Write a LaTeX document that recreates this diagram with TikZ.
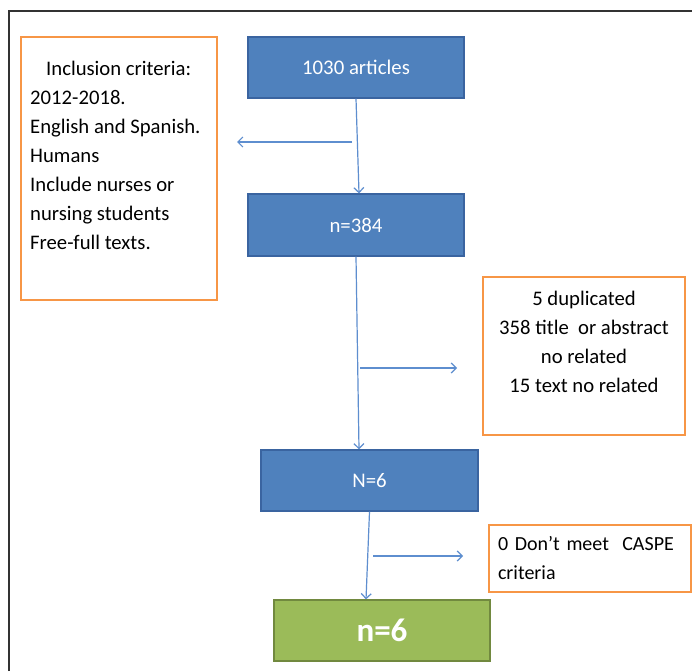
\documentclass[tikz,border=0pt]{standalone}
\usepackage{fontspec}
\setmainfont{Carlito}
\usetikzlibrary{arrows.meta}
\definecolor{boxblue}{HTML}{4F81BD}
\definecolor{boxblueline}{HTML}{3A64A0}
\definecolor{boxgreen}{HTML}{9BBB59}
\definecolor{boxgreenline}{HTML}{71893F}
\definecolor{boxorange}{HTML}{F79646}
\definecolor{arrowblue}{HTML}{5E8ECF}
\definecolor{framegray}{HTML}{333333}
\tikzset{
  x=1pt, y=-1pt,
  bluebox/.style={draw=boxblueline, line width=1.2pt, fill=boxblue, text=white,
    inner sep=0pt, font=\fontsize{20.8}{24}\selectfont},
  greenbox/.style={draw=boxgreenline, line width=1.2pt, fill=boxgreen, text=white,
    inner sep=0pt, font=\fontsize{33}{38}\selectfont\bfseries},
  orangebox/.style={draw=boxorange, line width=1.6pt, inner sep=0pt},
  bodytext/.style={inner sep=0pt, font=\fontsize{20.7}{29}\selectfont, text=black},
  flow/.style={draw=arrowblue, line width=1.2pt, -{Straight Barb[length=5pt,width=10pt,line width=1.2pt]}},
}
\begin{document}
\begin{tikzpicture}
\useasboundingbox (0,0) rectangle (692,671);
\fill[white] (0,0) rectangle (692,671);
% outer frame
\draw[framegray, line width=1.5pt] (9,671) -- (9,11) -- (692,11);

% left criteria box
\node[orangebox, minimum width=196pt, minimum height=263pt] (incl) at (119,168.5) {};
\node[bodytext, align=left, anchor=north west] (incltext) at (30,61)
  {\hspace*{16pt}Inclusion criteria:\\2012-2018.\\English and Spanish.\\Humans\\Include nurses or\\nursing students\\Free-full texts.};

% main flow boxes
\node[bluebox, minimum width=216pt, minimum height=61pt] (a) at (356,67.5) {1030 articles};
\node[bluebox, minimum width=216pt, minimum height=62pt] (b) at (356,225) {n=384};
\node[bluebox, minimum width=217pt, minimum height=61pt] (c) at (369.5,480.5) {N=6};
\node[greenbox, minimum width=216pt, minimum height=61pt] (d) at (382,630.5) {n=6};

% excluded boxes
\node[orangebox, minimum width=202pt, minimum height=158pt] (ex1) at (584,356) {};
\node[bodytext, align=center, anchor=north] (ex1text) at (584,291)
  {5 duplicated\\358 title~ or abstract\\no related\\15 text no related};
\node[orangebox, minimum width=202pt, minimum height=67pt, text width=184pt, align=left,
  font=\fontsize{20}{29}\selectfont] (ex2) at (590,558.5)
  {0 Don’t meet~ CASPE\\criteria};

% vertical connectors
\draw[flow] (a.south) -- ([xshift=3pt]b.north);
\draw[flow] (b.south) -- ([xshift=-10.5pt]c.north);
\draw[flow] (c.south) -- ([xshift=-16pt]d.north);

% side connectors
\coordinate (s1) at (352,142);
\coordinate (t1) at (237,142);
\coordinate (s2) at (360,368);
\coordinate (t2) at (457,368);
\coordinate (s3) at (373,556);
\coordinate (t3) at (463,556);
\draw[flow] (s1) -- (t1);
\draw[flow] (s2) -- (t2);
\draw[flow] (s3) -- (t3);
\end{tikzpicture}
\end{document}
